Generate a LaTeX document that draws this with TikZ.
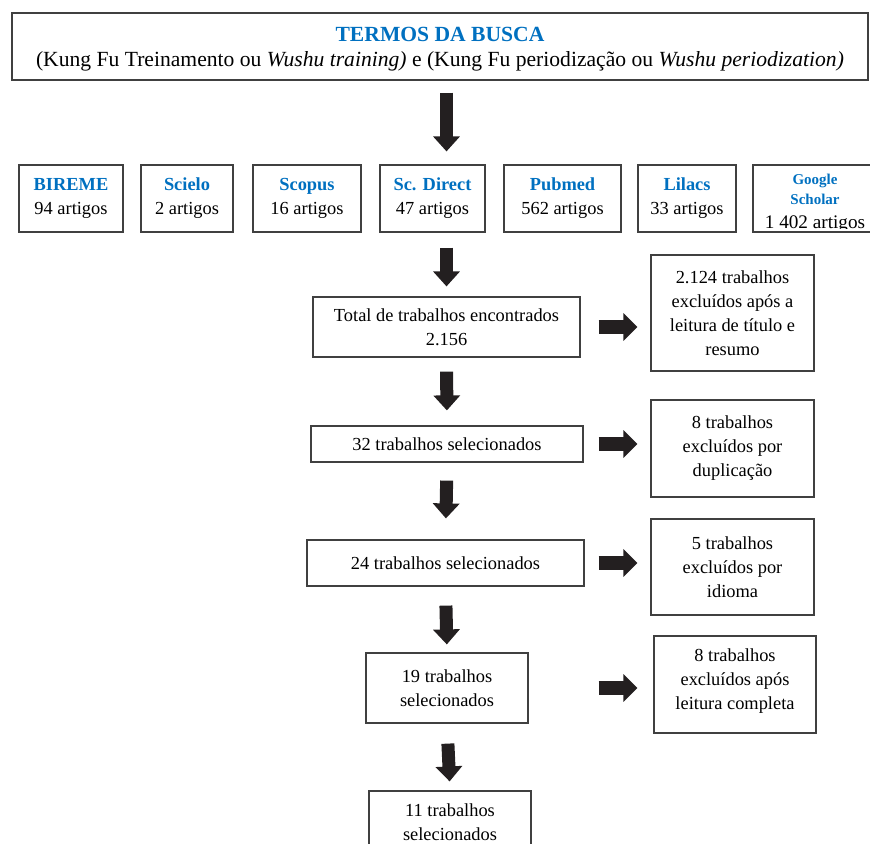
\documentclass[tikz,border=0pt]{standalone}
\usepackage{fontspec}
\setmainfont{Liberation Serif}
\usetikzlibrary{arrows.meta}
\usetikzlibrary{positioning}

\definecolor{buscablue}{RGB}{0,112,192}
\definecolor{arrowdark}{RGB}{35,31,32}

\tikzset{
    box/.style={rectangle, draw=black!75, line width=0.6pt, align=center, inner sep=2pt,
        font=\fontsize{9.2}{12}\selectfont},
    downarrow/.style={arrowdark, line width=6.5pt, -{Triangle[length=7.5pt,width=13pt]}},
    sidearrow/.style={arrowdark, line width=7pt, -{Triangle[length=7pt,width=13.5pt]}}
}

\begin{document}
\begin{tikzpicture}[x=0.5pt, y=-0.5pt]
    \useasboundingbox (0,0) rectangle (870,843);
    \clip (0,0) rectangle (870,843);

    \draw (440, 46.5) node[box, minimum width=428pt, minimum height=33.5pt,
        font=\fontsize{10.8}{12.5}\selectfont] (top)
        {\rule{0pt}{10pt}\textcolor{buscablue}{\bfseries TERMOS DA BUSCA}\\
         (Kung Fu Treinamento ou \textit{Wushu training)} e (Kung Fu periodização ou \textit{Wushu periodization)}};

    % bases de dados
    \foreach \name/\x/\w/\title/\count in {bireme/71/52pt/BIREME/94, scielo/187/46pt/Scielo/2,
        scopus/307/54pt/Scopus/16, scdirect/432.5/52.5pt/Sc. Direct/47,
        pubmed/562.5/58.5pt/Pubmed/562, lilacs/687/49pt/Lilacs/33}{
        \draw (\x, 198.5) node[box, minimum width=\w, minimum height=33.5pt] (\name)
            {\textcolor{buscablue}{\bfseries \title}\\\count{} artigos};
    }
    \draw (815, 198.5) node[box, minimum width=62pt, minimum height=33.5pt] (scholar) {};
    \begin{scope}
        \clip (740,160) rectangle (870,228);
        \node[align=center, inner sep=0pt, font=\fontsize{7.5}{10}\selectfont] (scholartext)
            at ([yshift=-2.5pt]scholar.center)
            {\textcolor{buscablue}{\bfseries Google}\\\textcolor{buscablue}{\bfseries Scholar}\\[2pt]
             {\fontsize{9.6}{10.5}\selectfont 1 402 artigos}};
    \end{scope}

    % fluxo principal
    \draw (446.5, 327) node[box, minimum width=133.5pt, minimum height=30pt] (total)
        {Total de trabalhos encontrados\\2.156};
    \draw (447, 444) node[box, minimum width=136pt, minimum height=18pt] (sel32)
        {32 trabalhos selecionados};
    \draw (445.5, 563) node[box, minimum width=138.5pt, minimum height=23pt] (sel24)
        {24 trabalhos selecionados};
    \draw (447, 688) node[box, minimum width=81pt, minimum height=35pt] (sel19)
        {19 trabalhos\\selecionados};
    \draw (450, 822) node[box, minimum width=81pt, minimum height=31pt] (sel11)
        {11 trabalhos\\selecionados};

    % exclusoes
    \draw (732.5, 313) node[box, minimum width=81.5pt, minimum height=58pt] (excl1)
        {2.124 trabalhos\\excluídos após a\\leitura de título e\\resumo};
    \draw (732.5, 448.5) node[box, minimum width=81.5pt, minimum height=48.5pt] (excl2)
        {8 trabalhos\\excluídos por\\duplicação};
    \draw (732.5, 567) node[box, minimum width=81.5pt, minimum height=48pt] (excl3)
        {5 trabalhos\\excluídos por\\idioma};
    \draw (735, 684.5) node[box, minimum width=81pt, minimum height=48.5pt, text depth=5pt] (excl4)
        {8 trabalhos\\excluídos após\\leitura completa};

    \draw[downarrow, shorten <=6pt, shorten >=6.5pt] (top.south -| total) -- (scdirect.north -| total);
    \draw[downarrow, shorten <=7.5pt, shorten >=5pt] (scdirect.south -| total) -- (total.north);
    \draw[downarrow, shorten <=7pt, shorten >=7.5pt] (total.south) -- (sel32.north);
    \draw[downarrow, shorten <=9pt, shorten >=10.5pt] (sel32.south) -- (sel24.north);
    \draw[downarrow, shorten <=9.5pt, shorten >=4pt] (sel24.south) -- (sel19.north);
    \draw[downarrow, shorten <=10pt, shorten >=4.5pt] (sel19.south) -- (sel11.north);

    \draw[sidearrow, shorten <=9pt, shorten >=6.5pt] (total.east) -- (total.east -| excl1.west);
    \draw[sidearrow, shorten <=7.5pt, shorten >=6.5pt] (sel32.east) -- (sel32.east -| excl2.west);
    \draw[sidearrow, shorten <=7pt, shorten >=6.5pt] (sel24.east) -- (sel24.east -| excl3.west);
    \draw[sidearrow, shorten <=35pt, shorten >=8pt] (sel19.east) -- (sel19.east -| excl4.west);
\end{tikzpicture}
\end{document}
